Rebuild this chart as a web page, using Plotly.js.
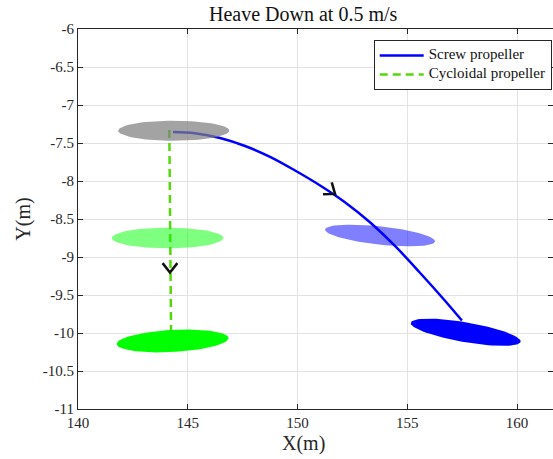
<!DOCTYPE html>
<html><head><meta charset="utf-8">
<script src="https://cdn.plot.ly/plotly-3.0.1.min.js"></script>
<style>html,body{margin:0;padding:0;background:#fff}#chart{width:553px;height:459px}</style>
</head><body><div id="chart"></div>
<script>
// ---- data ----
// Screw propeller trajectory
const screwX = [144.33, 145.33, 146.47, 147.61, 148.75, 149.89, 151.03, 152.16, 153.30, 154.44, 155.58, 156.72, 157.49];
const screwY = [-7.355, -7.372, -7.434, -7.539, -7.682, -7.862, -8.059, -8.279, -8.542, -8.854, -9.207, -9.575, -9.836];
// Cycloidal propeller trajectory
const cycloX = [144.16, 144.24];
const cycloY = [-7.33, -10.0];
// Vehicle snapshots (ellipses): centre, half length (x units), half thickness (y units), tilt (deg)
const bodyCX = [144.36, 144.08, 144.31, 153.76, 157.66];
const bodyCY = [-7.338, -8.75, -10.105, -8.717, -9.99];
const bodyHalfLen = [2.53, 2.54, 2.55, 2.52, 2.54];
const bodyHalfThk = [0.132, 0.136, 0.145, 0.12, 0.13];
const bodyTilt = [0, 0, 3.1, -6.2, -9.8];
// Direction arrows: tip position and heading (deg)
const arrowX = [144.19, 151.71];
const arrowY = [-9.205, -8.17];
const arrowDir = [-90, -36];
// Axis ticks
const xTicks = [140, 145, 150, 155, 160];
const yTicks = [-6, -6.5, -7, -7.5, -8, -8.5, -9, -9.5, -10, -10.5, -11];
const yTickText = ['-6', '-6.5', '-7', '-7.5', '-8', '-8.5', '-9', '-9.5', '-10', '-10.5', '-11'];
const seriesNames = ['Screw propeller', 'Cycloidal propeller'];

// ---- styles ----
const bodyColors = ['rgba(128,128,128,0.72)', 'rgba(0,255,0,0.5)', 'rgb(0,255,0)', 'rgba(0,0,255,0.5)', 'rgb(0,0,255)'];
const xRange = [140, 161.64];
const yRange = [-11, -6];
const M = {l: 78, r: 0, t: 29, b: 50};
const W = 553, H = 459;
const kx = (W - M.l - M.r) / (xRange[1] - xRange[0]);
const ky = (H - M.t - M.b) / (yRange[1] - yRange[0]);
const serif = 'Liberation Serif, Times New Roman, serif';
const big = s => '<span style="font-size:15px">' + s + '</span>';

const traces = [];
traces.push({x: screwX, y: screwY, type: 'scatter', mode: 'lines', name: big(seriesNames[0]),
  line: {color: '#0000ff', width: 2.5, shape: 'spline', smoothing: 1}});
traces.push({x: cycloX, y: cycloY, type: 'scatter', mode: 'lines', name: big(seriesNames[1]),
  line: {color: 'rgb(85,215,10)', width: 2.5, dash: '8px,5px'}});

for (let i = 0; i < bodyCX.length; i++) {
  const ex = [], ey = [];
  const a = bodyHalfLen[i] * kx, b = bodyHalfThk[i] * ky;
  const th = bodyTilt[i] * Math.PI / 180;
  for (let k = 0; k <= 90; k++) {
    const t = 2 * Math.PI * k / 90;
    const px = a * Math.cos(t) * Math.cos(th) - b * Math.sin(t) * Math.sin(th);
    const py = a * Math.cos(t) * Math.sin(th) + b * Math.sin(t) * Math.cos(th);
    ex.push(bodyCX[i] + px / kx);
    ey.push(bodyCY[i] + py / ky);
  }
  traces.push({x: ex, y: ey, type: 'scatter', mode: 'lines', fill: 'toself',
    fillcolor: bodyColors[i], line: {width: 0, color: bodyColors[i]}, showlegend: false, hoverinfo: 'skip'});
}

for (let i = 0; i < arrowX.length; i++) {
  const back = (arrowDir[i] + 180) * Math.PI / 180, half = 38 * Math.PI / 180, L = 12;
  const p1 = [arrowX[i] + L * Math.cos(back + half) / kx, arrowY[i] + L * Math.sin(back + half) / ky];
  const p2 = [arrowX[i] + L * Math.cos(back - half) / kx, arrowY[i] + L * Math.sin(back - half) / ky];
  traces.push({x: [p1[0], arrowX[i], p2[0]], y: [p1[1], arrowY[i], p2[1]], type: 'scatter', mode: 'lines',
    line: {color: '#111111', width: 2.5}, showlegend: false, hoverinfo: 'skip'});
}

const axCommon = {
  showline: true, linecolor: '#262626', linewidth: 1, mirror: 'ticks', ticks: 'inside', ticklen: 5,
  tickcolor: '#262626', gridcolor: '#e2e2e2', gridwidth: 1, zeroline: false, automargin: false,
  tickfont: {family: serif, size: 15, color: '#262626'}
};

const layout = {
  width: W, height: H, margin: M, paper_bgcolor: '#fff', plot_bgcolor: '#fff', showlegend: true,
  title: {text: 'Heave Down at 0.5 m/s', font: {family: serif, size: 20, color: '#111'},
    x: 0.474, xref: 'paper', xanchor: 'center', y: 1 - 14 / H, yref: 'container', yanchor: 'middle'},
  xaxis: Object.assign({}, axCommon, {range: xRange, tickvals: xTicks, ticktext: xTicks.map(String)}),
  yaxis: Object.assign({}, axCommon, {range: yRange, tickvals: yTicks, ticktext: yTickText,
    title: {text: 'Y(m)', font: {family: serif, size: 20, color: '#262626'}, standoff: 6}}),
  annotations: [{text: 'X(m)', xref: 'paper', yref: 'paper', x: (303 - M.l) / (W - M.l - M.r), xanchor: 'center',
    y: -(430 - (H - M.b)) / (H - M.t - M.b), yanchor: 'top', showarrow: false,
    font: {family: serif, size: 20, color: '#262626'}}],
  legend: {x: (551.7 - M.l) / (W - M.l - M.r), xanchor: 'right', y: (H - M.b - 40) / (H - M.t - M.b), yanchor: 'top',
    bgcolor: '#fff', bordercolor: '#262626', borderwidth: 1,
    font: {family: serif, size: 9, color: '#111'}, tracegroupgap: 0, itemwidth: 44}
};

Plotly.newPlot('chart', traces, layout, {displayModeBar: false, staticPlot: true});
</script>
</body></html>
